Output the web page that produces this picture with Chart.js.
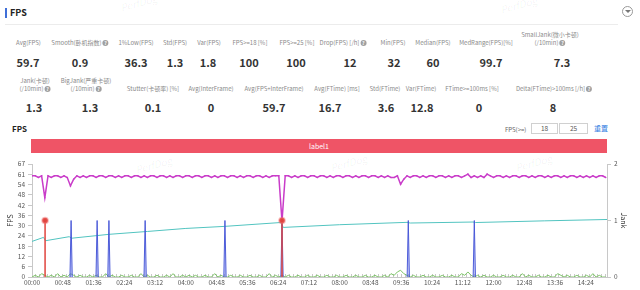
<!DOCTYPE html>
<html><head><meta charset="utf-8">
<script src="https://cdn.jsdelivr.net/npm/chart.js@4.4.0/dist/chart.umd.min.js"></script>
<style>
html,body{margin:0;padding:0;background:#fff;width:640px;height:290px;overflow:hidden;font-family:"Noto Sans CJK SC","Noto Sans",sans-serif;}
.abs{position:absolute;white-space:nowrap;line-height:1;}
.lab{font-size:6px;color:#8a8a8a;transform:translate(-50%,-50%);text-align:center;line-height:8px;}
.val{font-size:11px;font-weight:bold;color:#333;transform:translate(-50%,-50%);}
.q{display:inline-block;width:6px;height:6px;border-radius:50%;background:#a0a0a0;color:#fff;font-size:5px;line-height:6px;text-align:center;vertical-align:middle;margin-left:1px;font-weight:bold;}
.wm{font-size:10px;color:rgba(0,0,0,0.05);transform:rotate(-15deg);font-style:italic;}
.box{border:1px solid #d0d0d0;font-size:6.5px;color:#555;text-align:center;line-height:9px;height:9px;}
</style></head><body>
<div class="abs" style="left:5px;top:8px;width:2px;height:10px;background:#3f6fd8;"></div>
<div class="abs" style="left:10px;top:8px;font-size:9px;font-weight:bold;color:#222;">FPS</div>
<div class="abs" style="left:5px;top:24px;width:613px;height:1px;background:#ececec;"></div>
<div class="abs" style="left:622px;top:6px;width:9px;height:9px;border:1px solid #999;border-radius:50%;"></div>
<div class="abs" style="left:624.5px;top:10px;width:0;height:0;border-left:3px solid transparent;border-right:3px solid transparent;border-top:3px solid #777;"></div>
<div id="stats"></div>
<div class="abs" style="left:12px;top:125px;font-size:8px;font-weight:bold;color:#222;">FPS</div>
<div class="abs" style="left:505px;top:127px;font-size:6px;color:#666;">FPS(&gt;=)</div>
<div class="abs box" style="left:531px;top:123px;width:25px;">18</div>
<div class="abs box" style="left:559px;top:123px;width:27px;">25</div>
<div class="abs" style="left:594px;top:125px;font-size:7px;color:#2f7de1;">重置</div>
<div class="abs" style="left:31px;top:139px;width:576px;height:14px;background:#ef5466;color:#fff;font-size:7px;line-height:14px;text-align:center;">label1</div>
<div class="abs wm" style="left:120px;top:-2px;">PerfDog</div>
<div class="abs wm" style="left:500px;top:0px;">PerfDog</div>
<div class="abs wm" style="left:135px;top:160px;">PerfDog</div>
<div class="abs wm" style="left:330px;top:158px;">PerfDog</div>
<div class="abs wm" style="left:515px;top:158px;">PerfDog</div>
<canvas id="c" width="640" height="134" style="position:absolute;left:0;top:156px;"></canvas>
<script>
// ---- stats text ----
const statLabels1 = ['Avg(FPS)','Smooth(卧机指数)','1%Low(FPS)','Std(FPS)','Var(FPS)','FPS>=18 [%]','FPS>=25 [%]','Drop(FPS) [/h]','Min(FPS)','Median(FPS)','MedRange(FPS)[%]','SmallJank(微小卡顿)|(/10min)'];
const statHelp1 = [false,true,false,false,false,false,false,true,false,false,false,true];
const statValues1 = ['59.7','0.9','36.3','1.3','1.8','100','100','12','32','60','99.7','7.3'];
const statLabels2 = ['Jank(卡顿)|(/10min)','BigJank(严重卡顿)|(/10min)','Stutter(卡顿率) [%]','Avg(InterFrame)','Avg(FPS+InterFrame)','Avg(FTime) [ms]','Std(FTime)','Var(FTime)','FTime>=100ms [%]','Delta(FTime)>100ms [/h]'];
const statHelp2 = [true,true,false,false,false,false,false,false,false,true];
const statValues2 = ['1.3','1.3','0.1','0','59.7','16.7','3.6','12.8','0','8'];

// ---- chart data ----
const fpsStepSec = 5;
const fpsValues = [
60,60,59,60,47,60,59,60,60,59,
60,59,54,58,60,59,60,59,60,60,
59,60,60,59,60,60,59,60,59,60,
60,59,60,60,59,60,59,60,60,59,
60,60,59,60,59,60,60,59,60,60,
59,60,60,59,60,60,59,60,59,60,
60,59,60,60,59,60,59,60,60,59,
60,60,59,60,59,60,60,60,33,60,
60,59,60,59,60,60,59,60,60,59,
60,60,59,60,59,60,60,59,60,60,
59,60,59,60,60,59,60,60,59,60,
59,60,59,59,60,55,58,60,59,60,
60,59,60,59,60,60,59,60,60,59,
60,59,60,60,59,60,61,59,60,59,
60,59,61,60,59,60,60,59,60,59,
60,60,59,60,60,59,60,59,60,60,
59,60,59,60,60,59,60,59,60,60,
59,60,59,60,59,60,59,60,60,59];
const greenValues = [
0,1,0,2,1,0,1,0,2,0,
1,0,2,1,0,1,0,0,1,0,
1,0,0,2,0,1,0,0,1,0,
0,1,0,0,2,0,1,0,0,1,
0,0,1,0,2,0,0,1,0,1,
0,1,0,0,1,0,0,2,0,1,
0,0,1,0,0,1,0,0,1,0,
0,1,0,0,2,0,1,0,1,0,
1,0,0,1,0,0,1,0,0,1,
0,0,1,0,0,1,0,0,1,0,
0,1,0,0,1,0,0,1,0,0,
1,0,2,1,3,4,2,1,0,1,
0,0,1,0,0,1,0,0,1,0,
0,1,0,0,2,1,3,1,0,1,
0,1,0,0,1,0,0,1,0,0,
1,0,0,2,0,1,0,0,1,0,
0,1,0,0,2,1,0,1,0,0,
1,0,0,1,0,2,0,1,0,0];
const trendTimes  = [0,   18,  21,  58,  62,  120, 180, 240, 300, 388, 392, 480, 585, 590, 688, 692, 800, 897];
const trendValues = [21.1,23.5,21.5,23.9,23.0,25.3,27.0,28.8,30.0,32.3,29.4,31.0,32.4,32.0,32.6,32.3,33.3,34.1];
const jankTimes = [61,101.6,120,176.5,301,390,587,690];
const bigJankTimes = [20.4,390];
const leftTickLabels = ['0','6','12','18','24','30','36','42','48','54','61','67'];
const rightTickLabels = ['0','1','2'];
const xMaxSec = 897;
const xLabelEverySec = 48;
const xTickEverySec = 6;

// build stats
const host = document.getElementById('stats');
const lx1=[28.5,80,136,175,209,250,297,343,393,433,486,550], vx1=[28,80,136,175,208,249,296,350,394,433,491,562];
const lx2=[35,86,153,211,274,337,385,421,472,554], vx2=[34,90,153,211,274,330,386,422,479,553];
function addStats(labels,help,vals,lx,vx,ly,vy){
  labels.forEach((l,i)=>{
    const d=document.createElement('div'); d.className='abs lab';
    const parts=l.split('|');
    d.innerHTML = parts.map((p,k)=>p.replace(/</g,'&lt;').replace(/>/g,'&gt;')+(k===parts.length-1&&help[i]?'<span class="q">?</span>':'')).join('<br>');
    d.style.left=lx[i]+'px'; d.style.top=(parts.length>1?ly-4:ly)+'px';
    host.appendChild(d);
    const v=document.createElement('div'); v.className='abs val'; v.textContent=vals[i];
    v.style.left=vx[i]+'px'; v.style.top=vy+'px'; host.appendChild(v);
  });
}
addStats(statLabels1,statHelp1,statValues1,lx1,vx1,43,61.5);
addStats(statLabels2,statHelp2,statValues2,lx2,vx2,89,107);

// chart
const fpsPts = fpsValues.map((v,i)=>({x:i*fpsStepSec,y:v}));
const greenPts = greenValues.map((v,i)=>({x:i*fpsStepSec,y:v}));
const trendPts = trendTimes.map((t,i)=>({x:t,y:trendValues[i]}));
const jankPts=[]; jankTimes.forEach(t=>{jankPts.push({x:t-1.8,y:0},{x:t,y:1},{x:t+1.8,y:0},{x:t+1.8,y:null});});
const bigPts=[]; bigJankTimes.forEach(t=>{bigPts.push({x:t,y:0},{x:t,y:1},{x:t,y:null});});
const fmt = s=>{const m=Math.floor(s/60),ss=Math.round(s%60);return String(m).padStart(2,'0')+':'+String(ss).padStart(2,'0');};
const tickFont={size:6.5,family:'"Noto Sans CJK SC","Noto Sans",sans-serif'};

new Chart(document.getElementById('c'),{
  type:'line',
  data:{datasets:[
    {label:'BigJank',data:bigPts,yAxisID:'y1',borderColor:'#e0453f',borderWidth:1.5,spanGaps:false,
     pointRadius:c=>c.raw&&c.raw.y===1?2.8:0,pointBackgroundColor:'#e0453f',pointBorderColor:'rgba(240,110,110,0.45)',pointBorderWidth:2},
    {label:'Jank',data:jankPts,yAxisID:'y1',borderColor:'rgba(70,85,215,0.95)',borderWidth:1,backgroundColor:'rgba(100,115,230,0.4)',fill:'origin',pointRadius:0,spanGaps:false},
    {label:'FPS',data:fpsPts,yAxisID:'y',borderColor:'#c93cc9',borderWidth:1.5,pointRadius:0.8,pointBackgroundColor:'#c93cc9',pointBorderWidth:0},
    {label:'Trend',data:trendPts,yAxisID:'y',borderColor:'#52c4c0',borderWidth:1,pointRadius:0},
    {label:'InterFrame',data:greenPts,yAxisID:'y',borderColor:'#7cc466',borderWidth:1,pointRadius:0}
  ]},
  options:{
    responsive:false,animation:false,devicePixelRatio:1,
    layout:{padding:{top:8,left:0,right:0,bottom:0}},
    plugins:{legend:{display:false},tooltip:{enabled:false}},
    elements:{line:{tension:0}},
    scales:{
      x:{type:'linear',min:0,max:xMaxSec,
        afterBuildTicks:s=>{const t=[];for(let v=0;v<=xMaxSec;v+=xTickEverySec)t.push({value:v});s.ticks=t;},
        afterFit:s=>{s.height=13;},
        ticks:{autoSkip:false,maxRotation:0,padding:5,font:tickFont,color:'#555',callback:v=>v%xLabelEverySec===0?fmt(v):''},
        grid:{drawOnChartArea:false,drawTicks:true,tickLength:-3,color:'#c8c8c8'},
        border:{color:'#c8c8c8'}},
      y:{position:'left',min:0,max:67,
        afterBuildTicks:s=>{s.ticks=leftTickLabels.map((l,i)=>({value:67*i/(leftTickLabels.length-1)}));},
        afterFit:s=>{s.width=32;},
        ticks:{autoSkip:false,padding:3,font:tickFont,color:'#555',callback:(v,i)=>leftTickLabels[i]},
        grid:{drawOnChartArea:false,tickLength:4,color:'#c8c8c8'},
        border:{color:'#c8c8c8'},
        title:{display:true,text:'FPS',font:{size:7,family:tickFont.family},color:'#333',padding:{top:6,bottom:0}}},
      y1:{position:'right',min:0,max:2,
        afterBuildTicks:s=>{s.ticks=rightTickLabels.map((l,i)=>({value:i}));},
        afterFit:s=>{s.width=33;},
        ticks:{autoSkip:false,padding:3,font:tickFont,color:'#555',callback:(v,i)=>rightTickLabels[i]},
        grid:{drawOnChartArea:false,tickLength:4,color:'#c8c8c8'},
        border:{color:'#c8c8c8'},
        title:{display:true,text:'Jank',font:{size:7,family:tickFont.family},color:'#333',padding:{top:12,bottom:0}}}
    }
  }
});
</script>
</body></html>
